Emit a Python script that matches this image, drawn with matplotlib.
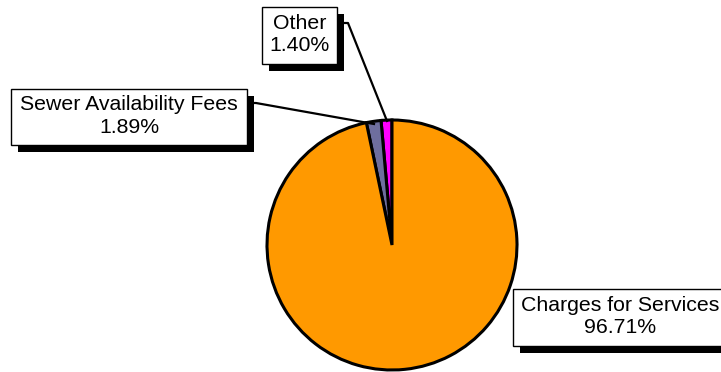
import matplotlib.pyplot as plt
from matplotlib.patches import Rectangle

# revenue shares, drawn counter-clockwise from 12 o'clock
categories = ["Other", "Sewer Availability Fees", "Charges for Services"]
shares = [1.40, 1.89, 96.71]
colors = ["#FF00FF", "#6E6E9E", "#FF9900"]

W, H = 721, 372
fig = plt.figure(figsize=(W / 100, H / 100), dpi=100)
ax = fig.add_axes([0, 0, 1, 1])

ax.pie(shares, colors=colors, startangle=90, counterclock=True,
       center=(392, H - 245), radius=125, frame=True,
       wedgeprops=dict(edgecolor="black", linewidth=2.2))
ax.set_xlim(0, W)
ax.set_ylim(0, H)
ax.axis("off")


def label_box(x0, y0, x1, y1, text):
    # white box with a hard black drop shadow, in pixel coords (y down)
    w, h = x1 - x0, y1 - y0
    ax.add_patch(Rectangle((x0 + 7, H - y1 - 7), w, h, facecolor="black",
                           edgecolor="none", zorder=5))
    ax.add_patch(Rectangle((x0, H - y1), w, h, facecolor="white",
                           edgecolor="black", linewidth=1.0, zorder=6))
    ax.text((x0 + x1) / 2, H - (y0 + y1) / 2 + 1, text, ha="center", va="center",
            fontsize=15.3, family="Liberation Sans", linespacing=1.25, zorder=7)


# leader lines
ax.plot([337, 348, 387], [H - 23, H - 23, H - 121], color="black", lw=1.6, zorder=4)
ax.plot([247, 256, 374], [H - 103, H - 103, H - 124], color="black", lw=1.6, zorder=4)

labels = [f"{c}\n{v:.2f}%" for c, v in zip(categories, shares)]
label_box(262, 7, 337, 64, labels[0])
label_box(11, 89, 247, 145, labels[1])
label_box(513, 289, 727, 346, labels[2])

fig.savefig("out.png", dpi=100)
